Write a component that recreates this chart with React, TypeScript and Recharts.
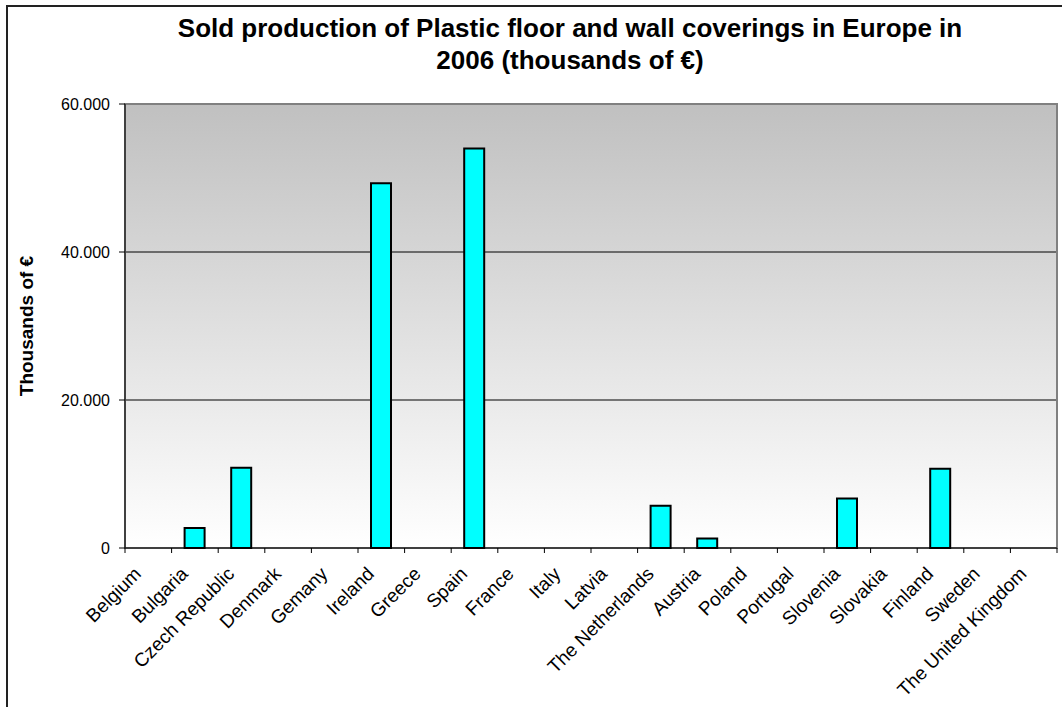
import React from 'react';
import {
  BarChart,
  Bar,
  XAxis,
  YAxis,
  CartesianGrid,
  ReferenceArea,
  Label
} from 'recharts';

// Sold production of plastic floor and wall coverings, 2006 (thousands of €)
const countries = [
  'Belgium', 'Bulgaria', 'Czech Republic', 'Denmark', 'Gemany', 'Ireland',
  'Greece', 'Spain', 'France', 'Italy', 'Latvia', 'The Netherlands',
  'Austria', 'Poland', 'Portugal', 'Slovenia', 'Slovakia', 'Finland',
  'Sweden', 'The United Kingdom'
];
const values = [
  0, 2700, 10850, 0, 0, 49300,
  0, 54000, 0, 0, 0, 5700,
  1300, 0, 0, 6700, 0, 10700,
  0, 0
];
const yTicks = [0, 20000, 40000, 60000];

const chartData = countries.map((name, i) => ({ name, value: values[i] }));

const FONT = 'Arial, "Liberation Sans", sans-serif';
const PLOT_LEFT = 125;
const PLOT_RIGHT = 1057;
const STEP = (PLOT_RIGHT - PLOT_LEFT) / countries.length;

// format like 60.000
const fmt = (v: number) =>
  v === 0 ? '0' : v.toLocaleString('en-US').replace(/,/g, '.');

const CountryTick = (props: any) => {
  const { x, y, payload, index } = props;
  const last = index === countries.length - 1;
  const ax = x - 6;
  const ay = y + 27;
  return (
    <g>
      <line x1={x - STEP / 2} x2={x - STEP / 2} y1={y} y2={y + 5} stroke="#000" />
      {last && (
        <line x1={x + STEP / 2} x2={x + STEP / 2} y1={y} y2={y + 5} stroke="#000" />
      )}
      <text
        x={ax}
        y={ay}
        textAnchor="end"
        transform={`rotate(-45, ${ax}, ${ay})`}
        fontSize={19}
        fontFamily={FONT}
        fill="#000"
      >
        {payload.value}
      </text>
    </g>
  );
};

const App: React.FC = () => {
  return (
    <div
      style={{
        position: 'fixed',
        left: 0,
        top: 0,
        width: 1062,
        height: 707,
        overflow: 'hidden',
        background: '#fff'
      }}
    >
      <div
        style={{
          position: 'absolute',
          left: 100,
          top: 12,
          width: 940,
          textAlign: 'center',
          fontFamily: FONT,
          fontWeight: 'bold',
          fontSize: 26,
          lineHeight: '32px',
          color: '#000'
        }}
      >
        Sold production of Plastic floor and wall coverings in Europe in
        <br />
        2006 (thousands of €)
      </div>
      <div style={{ position: 'absolute', left: 0, top: 0 }}>
        <BarChart
          width={1062}
          height={707}
          data={chartData}
          margin={{ top: 104, right: 1062 - PLOT_RIGHT, left: 0, bottom: 0 }}
          barSize={20}
        >
          <defs>
            <linearGradient id="plotBg" x1="0" y1="0" x2="0" y2="1">
              <stop offset="0%" stopColor="#c0c0c0" />
              <stop offset="100%" stopColor="#ffffff" />
            </linearGradient>
          </defs>
          <CartesianGrid
            vertical={false}
            stroke="#000"
            fill="url(#plotBg)"
            fillOpacity={1}
          />
          <ReferenceArea
            y1={0}
            y2={60000}
            fill="none"
            stroke="#808080"
            strokeWidth={2}
          />
          <XAxis
            dataKey="name"
            height={159}
            interval={0}
            tickLine={false}
            tickSize={0}
            tickMargin={0}
            axisLine={{ stroke: '#000' }}
            tick={<CountryTick />}
          />
          <YAxis
            width={PLOT_LEFT}
            domain={[0, 60000]}
            ticks={yTicks}
            tickFormatter={fmt}
            tickSize={6}
            tickMargin={9}
            axisLine={{ stroke: '#000' }}
            tickLine={{ stroke: '#000' }}
            tick={{ fontSize: 16, fontFamily: FONT, fill: '#000' }}
          >
            <Label
              content={({ viewBox }: any) => {
                const cy = viewBox.y + viewBox.height / 2;
                return (
                  <text
                    x={33}
                    y={cy}
                    textAnchor="middle"
                    transform={`rotate(-90, 33, ${cy})`}
                    fontSize={19}
                    fontWeight="bold"
                    fontFamily={FONT}
                    fill="#000"
                  >
                    Thousands of €
                  </text>
                );
              }}
            />
          </YAxis>
          <Bar
            dataKey="value"
            fill="#00ffff"
            stroke="#000"
            strokeWidth={2}
            isAnimationActive={false}
          />
        </BarChart>
      </div>
      {/* chart frame, only top/left edges fall inside the picture */}
      <svg
        width={1062}
        height={707}
        style={{ position: 'absolute', left: 0, top: 0, pointerEvents: 'none' }}
      >
        <polyline
          points="7,707 7,6 1062,6"
          fill="none"
          stroke="#222"
          strokeWidth={2}
        />
      </svg>
    </div>
  );
};

export default App;
